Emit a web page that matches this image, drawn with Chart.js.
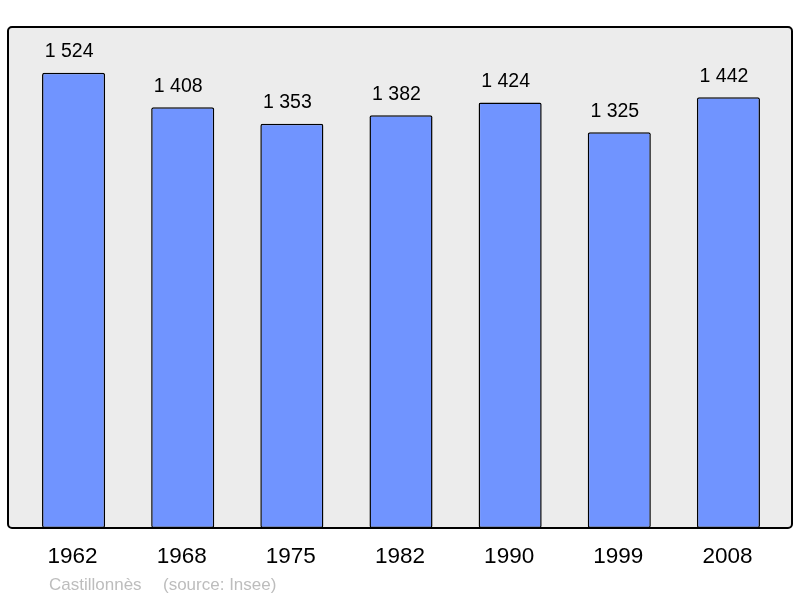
<!DOCTYPE html>
<html>
<head>
<meta charset="utf-8">
<script src="https://cdn.jsdelivr.net/npm/chart.js@4/dist/chart.umd.min.js"></script>
<style>
  body { margin: 0; background: #fff; }
  #wrap { width: 800px; height: 598px; }
</style>
</head>
<body>
<div id="wrap"><canvas id="pop" width="800" height="598"></canvas></div>
<script>
// --- données ---
const annees = ['1962', '1968', '1975', '1982', '1990', '1999', '2008'];
const population = [1524, 1408, 1353, 1382, 1424, 1325, 1442];
const commune = 'Castillonnès';
const source = '(source: Insee)';

const fmt = (n) => String(n).replace(/\B(?=(\d{3})+(?!\d))/g, ' ');

// cadre gris arrondi + libellés
const decor = {
    id: 'decor',
    beforeDraw(chart) {
        const { ctx, chartArea } = chart;
        const x0 = chartArea.left - 11, x1 = chartArea.right + 9;
        const y0 = chartArea.top, y1 = chartArea.bottom;
        ctx.save();
        ctx.beginPath();
        ctx.roundRect(x0, y0, x1 - x0, y1 - y0, 4);
        ctx.fillStyle = '#ececec';
        ctx.fill();
        ctx.lineWidth = 2;
        ctx.strokeStyle = '#000';
        ctx.stroke();
        ctx.restore();
    },
    afterDatasetsDraw(chart) {
        const { ctx, chartArea } = chart;
        const xScale = chart.scales.x;
        const meta = chart.getDatasetMeta(0);
        ctx.save();
        ctx.fillStyle = '#000';
        ctx.textAlign = 'center';
        // valeurs au-dessus des barres (un peu décalées à gauche, comme l'original)
        ctx.font = '19.5px "Liberation Sans", Arial, sans-serif';
        ctx.textBaseline = 'bottom';
        meta.data.forEach((bar, i) => {
            ctx.fillText(fmt(population[i]), bar.x - 4.5, bar.y - 11);
        });
        // années sous le cadre
        ctx.font = '22.5px "Liberation Sans", Arial, sans-serif';
        ctx.textBaseline = 'middle';
        annees.forEach((a, i) => {
            ctx.fillText(a, xScale.getPixelForValue(i) - 1, chartArea.bottom + 29);
        });
        // pied
        ctx.font = '17px "Liberation Sans", Arial, sans-serif';
        ctx.fillStyle = '#bdbdbd';
        ctx.textAlign = 'left';
        ctx.fillText(commune, 49, chartArea.bottom + 57);
        ctx.fillText(source, 163, chartArea.bottom + 57);
        ctx.restore();
    }
};

new Chart(document.getElementById('pop').getContext('2d'), {
    type: 'bar',
    data: {
        labels: annees,
        datasets: [{
            data: population,
            backgroundColor: '#7094ff',
            borderColor: '#000',
            borderWidth: 1.5,
            borderRadius: 2,
            borderSkipped: false,
            barPercentage: 0.578,
            categoryPercentage: 1
        }]
    },
    options: {
        responsive: false,
        animation: false,
        layout: { padding: { left: 19, right: 17, top: 27, bottom: 70 } },
        plugins: { legend: { display: false }, tooltip: { enabled: false } },
        scales: {
            x: { display: false },
            y: { display: false, min: 0, max: 1677 }
        }
    },
    plugins: [decor]
});
</script>
</body>
</html>
